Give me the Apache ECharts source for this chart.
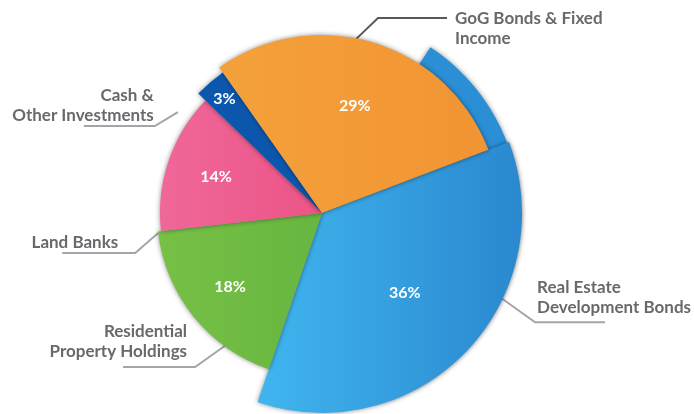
<!DOCTYPE html>
<html><head><meta charset="utf-8">
<script src="https://cdn.jsdelivr.net/npm/echarts@6/dist/echarts.min.js"></script>
<style>html,body{margin:0;padding:0;background:#fff}#c{width:694px;height:414px}</style>
</head><body><div id="c"></div>
<script>
// ---- data ----
const categories = ['Cash &\nOther Investments', 'GoG Bonds & Fixed\nIncome', 'Real Estate\nDevelopment Bonds', 'Residential\nProperty Holdings', 'Land Banks'];
const values = [3, 29, 36, 18, 14];

// ---- styling / layout ----
const CX = 322, CY = 213, S = 136;
const radii = [172, 178, 200, 165, 162];
const pctR = [150, 112, 115, 118, 112];
const drawOrder = [2, 3, 4, 0, 1];
const colors = [
  '#0c57ad',
  {type:'linear',x:0,y:0,x2:1,y2:0,colorStops:[{offset:0,color:'#f4a13b'},{offset:1,color:'#f19433'}]},
  {type:'linear',x:0,y:0,x2:1,y2:0,colorStops:[{offset:0,color:'#40b6ef'},{offset:1,color:'#2a88cf'}]},
  {type:'linear',x:0,y:0,x2:1,y2:0,colorStops:[{offset:0,color:'#78c046'},{offset:1,color:'#66b640'}]},
  {type:'linear',x:0,y:0,x2:1,y2:0,colorStops:[{offset:0,color:'#f0679a'},{offset:1,color:'#ec5486'}]}
];
const lineColors = ['#a3a5a8', '#58595b', '#a3a5a8', '#a3a5a8', '#a3a5a8'];
// leader lines: start angle/radius, bend offset, horizontal run, text offset from bend
const leader = [
  {a:145,   r:176, bx:-23, by:14, run:-71, tx:-1,  ty:-21, align:'right'},
  {a:79.2,  r:176, bx:23,  by:-22, run:69, tx:77,  ty:10,  align:'left'},
  {a:-25.3, r:197, bx:35,  by:25, run:70,  tx:2,   ty:-25, align:'left'},
  {a:235,   r:155, bx:-38, by:27, run:-72, tx:-8,  ty:-25, align:'right'},
  {a:187,   r:165, bx:-23, by:20, run:-73, tx:-17, ty:-11, align:'right'}
];
const shadow = {shadowBlur:5, shadowColor:'rgba(0,0,0,0.45)'};

const series = [];
// decorative back layer of the largest slice
series.push({
  type:'pie', radius:[0,198], center:[CX,CY], startAngle:S+36, silent:true, animation:false,
  label:{show:false}, labelLine:{show:false}, emphasis:{disabled:true},
  data: values.map((v,j)=>({value:v, name:categories[j],
    itemStyle: j===2 ? Object.assign({color:'#2b8fd6', borderWidth:0}, shadow) : {color:'transparent', borderWidth:0}}))
});
drawOrder.forEach(i => {
  series.push({
    type:'pie', radius:[0,radii[i]], center:[CX,CY], startAngle:S, silent:true, animation:false,
    avoidLabelOverlap:false, emphasis:{disabled:true},
    label:{position:'outside', color:'#68696c', fontFamily:'Lato', fontWeight:'bold', fontSize:17, lineHeight:20},
    labelLine:{lineStyle:{color:lineColors[i], width:2}},
    data: values.map((v,j)=>({value:v, name:categories[j],
      itemStyle: j===i ? Object.assign({color:colors[j], borderWidth:0}, shadow) : {color:'transparent', borderWidth:0},
      label:{show:j===i}, labelLine:{show:j===i}})),
    labelLayout: function(p){
      if (p.dataIndex !== i) return {};
      const L = leader[i];
      const rad = L.a*Math.PI/180;
      const x0 = CX + L.r*Math.cos(rad), y0 = CY - L.r*Math.sin(rad);
      const x1 = x0 + L.bx, y1 = y0 + L.by;
      const x2 = x1 + L.run;
      return {x:x1+L.tx, y:y1+L.ty, align:L.align, verticalAlign:'middle',
              labelLinePoints:[[x0,y0],[x1,y1],[x2,y1]]};
    }
  });
});
// percentage labels
series.push({
  type:'pie', radius:[0,230], center:[CX,CY], startAngle:S, silent:true, animation:false,
  avoidLabelOverlap:false, emphasis:{disabled:true}, z:5,
  itemStyle:{color:'transparent', borderWidth:0},
  label:{position:'inside', formatter:'{c}%', color:'#ffffff', fontFamily:'Lato', fontWeight:'bold', fontSize:16},
  labelLine:{show:false},
  data: values.map((v,j)=>({value:v, name:categories[j]})),
  labelLayout: function(p){
    const r = p.labelRect;
    const cx = r.x + r.width/2, cy = r.y + r.height/2;
    const dx = cx-CX, dy = cy-CY, d = Math.sqrt(dx*dx+dy*dy);
    const k = pctR[p.dataIndex]/d;
    return {x:CX+dx*k, y:CY+dy*k, align:'center', verticalAlign:'middle'};
  }
});

const chart = echarts.init(document.getElementById('c'), null, {renderer:'canvas'});
chart.setOption({animation:false, backgroundColor:'#ffffff', series});
</script></body></html>
